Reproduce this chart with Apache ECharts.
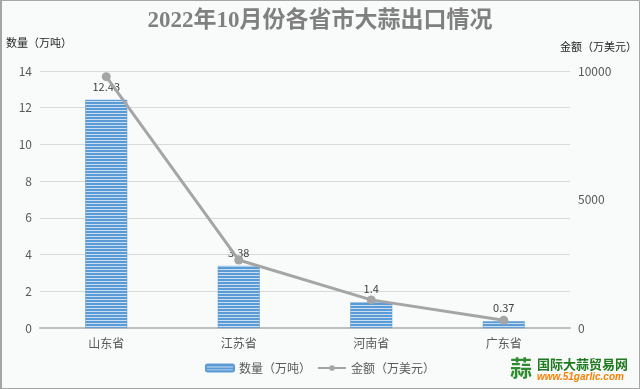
<!DOCTYPE html>
<html>
<head>
<meta charset="utf-8">
<script src="https://cdn.jsdelivr.net/npm/echarts@6/dist/echarts.min.js"></script>
<style>
html,body{margin:0;padding:0;background:#f9fbfb;}
#main{width:640px;height:389px;}
</style>
</head>
<body>
<div id="main"></div>
<script>
var categories = ['山东省', '江苏省', '河南省', '广东省'];
var quantity = [12.43, 3.38, 1.4, 0.37];
var amount = [9780, 2645, 1094, 300];
var leftTicks = {min: 0, max: 14, interval: 2};
var rightTicks = {min: 0, max: 10000, interval: 5000};

var cv = document.createElement('canvas');
cv.width = 6; cv.height = 3;
var cx = cv.getContext('2d');
cx.fillStyle = '#c9def2'; cx.fillRect(0, 0, 6, 3);
cx.fillStyle = '#5b9bd5'; cx.fillRect(0, 0, 6, 2);
var stripe = {image: cv, repeat: 'repeat'};

var chart = echarts.init(document.getElementById('main'));
var font = '"Noto Sans CJK SC", "Noto Sans", sans-serif';
chart.setOption({
  backgroundColor: '#f9fbfb',
  animation: false,
  title: {
    text: '2022年10月份各省市大蒜出口情况',
    left: 'center', top: 5,
    textStyle: {fontFamily: '"Liberation Serif", "Noto Sans CJK SC", serif', fontSize: 23, fontWeight: 'bold', color: '#808080'}
  },
  grid: {left: 40, right: 70, top: 71, bottom: 61},
  legend: {
    bottom: 10, left: 'center',
    itemWidth: 28, itemHeight: 7, itemGap: 6,
    textStyle: {fontFamily: font, fontSize: 12, color: '#595959'},
    data: [{name: '数量（万吨）'}, {name: '金额（万美元）'}]
  },
  xAxis: {
    type: 'category', data: categories,
    axisLine: {lineStyle: {color: '#bfbfbf', width: 2}},
    axisTick: {show: false},
    axisLabel: {fontFamily: font, fontSize: 12, color: '#595959', margin: 9}
  },
  yAxis: [{
    type: 'value', min: leftTicks.min, max: leftTicks.max, interval: leftTicks.interval,
    name: '数量（万吨）',
    nameTextStyle: {fontFamily: font, fontSize: 11, color: '#262626', align: 'left', padding: [0, 0, 8, -34]},
    axisLine: {show: false}, axisTick: {show: false},
    axisLabel: {fontFamily: font, fontSize: 12, color: '#595959', margin: 8},
    splitLine: {lineStyle: {color: '#d9d9d9'}}
  }, {
    type: 'value', min: rightTicks.min, max: rightTicks.max, interval: rightTicks.interval,
    name: '金额（万美元）',
    nameTextStyle: {fontFamily: font, fontSize: 11, color: '#262626', align: 'right', padding: [0, -67, 4, 0]},
    axisLine: {show: false}, axisTick: {show: false},
    axisLabel: {fontFamily: font, fontSize: 12, color: '#595959', margin: 8, formatter: function (v) { return String(v); }},
    splitLine: {show: false}
  }],
  series: [{
    name: '数量（万吨）', type: 'bar', data: quantity, barWidth: 42,
    itemStyle: {color: stripe, borderColor: '#5b9bd5', borderWidth: 0.5},
    label: {show: true, position: 'top', distance: 8, fontFamily: font, fontSize: 11, color: '#404040'}
  }, {
    name: '金额（万美元）', type: 'line', yAxisIndex: 1, data: amount,
    symbol: 'circle', symbolSize: 9,
    lineStyle: {color: '#a5a5a5', width: 3},
    itemStyle: {color: '#a5a5a5'}
  }],
  graphic: [
    {type: 'rect', shape: {x: 0.5, y: 0.5, width: 639, height: 388}, style: {fill: null, stroke: '#a6a6a6', lineWidth: 1}, silent: true},
    {type: 'rect', shape: {x: 0, y: 0, width: 2, height: 389}, style: {fill: '#a6a6a6'}, silent: true},
    {type: 'text', left: 510, top: 357, style: {text: '蒜', font: 'bold 22px "Noto Sans CJK SC"', fill: '#2e8b2e'}},
    {type: 'text', left: 537, top: 358, style: {text: '国际大蒜贸易网', font: 'bold 13px "Noto Sans CJK SC"', fill: '#1f7a1f'}},
    {type: 'text', left: 537, top: 372, style: {text: 'www.51garlic.com', font: 'italic bold 10px "Liberation Sans"', fill: '#ff7f00'}}
  ]
});
</script>
</body>
</html>
